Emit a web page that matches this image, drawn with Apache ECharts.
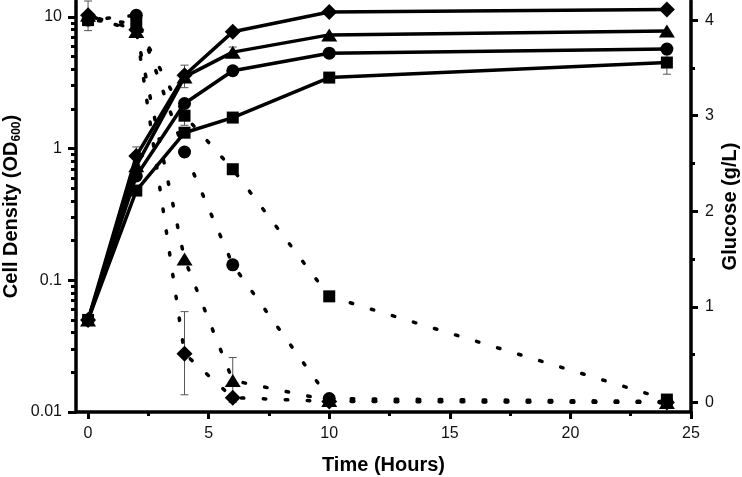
<!DOCTYPE html>
<html>
<head>
<meta charset="utf-8">
<script src="https://cdn.jsdelivr.net/npm/echarts@6/dist/echarts.min.js"></script>
<style>
  html, body { margin: 0; padding: 0; background: #fff; }
  #chart { width: 742px; height: 477px; }
</style>
</head>
<body>
<div id="chart"></div>
<script>
// sampling times (hours)
const times = [0, 2, 4, 6, 10, 24]

// cell density OD600 (solid lines, left log axis)
const odDiamond = [0.05, 0.88, 3.6, 7.7, 10.9, 11.4]
const odTriangle = [0.05, 0.74, 3.5, 5.4, 7.3, 7.8]
const odCircle = [0.05, 0.62, 2.2, 3.9, 5.3, 5.7]
const odSquare = [0.05, 0.48, 1.32, 1.72, 3.46, 4.5]

// glucose g/L (dotted lines, right axis)
const gluDiamond = [4.05, 3.9, 0.51, 0.05, 0.01, 0.0]
const gluTriangle = [4.05, 3.88, 1.5, 0.23, 0.02, 0.0]
const gluCircle = [4.0, 4.05, 2.62, 1.44, 0.04, 0.01]
const gluSquare = [4.0, 3.97, 3.0, 2.44, 1.11, 0.03]

// error bars [time, low, high]
const odErrors = [[2, 0.76, 1.03], [4, 2.9, 4.3], [6, 4.97, 5.9], [24, 3.67, 5.4]]
const gluErrors = [[0, 3.89, 4.2], [2, 3.95, 4.1], [4, 2.9, 3.1], [4, 0.08, 0.95], [6, 0.0, 0.47]]

// tick values
const xTicks = [0, 5, 10, 15, 20, 25]
const xMinorTicks = [2.5, 7.5, 12.5, 17.5, 22.5]
const odTicks = [0.01, 0.1, 1, 10]
const odMinorTicks = [0.02, 0.03, 0.04, 0.05, 0.06, 0.07, 0.08, 0.09,
  0.2, 0.3, 0.4, 0.5, 0.6, 0.7, 0.8, 0.9, 2, 3, 4, 5, 6, 7, 8, 9]
const gluTicks = [0, 1, 2, 3, 4]
const gluMinorTicks = [0.5, 1.5, 2.5, 3.5]

const font = 'Liberation Sans, Arial, sans-serif'
const tickStyle = { color: '#000', width: 3 }
const labelStyle = { fontSize: 16, color: '#111', fontFamily: font, margin: 14 }
const nameStyle = { fontSize: 20, fontWeight: 'bold', color: '#000', fontFamily: font }
const dotPeriod = 22

const chart = echarts.init(document.getElementById('chart'))

function axisLine() {
  return { show: true, onZero: false, lineStyle: { color: '#000', width: 3.5 } }
}

function pairs(values) {
  return times.map((t, i) => [t, values[i]])
}

function odLine(values, symbol, size) {
  return {
    type: 'line', xAxisIndex: 0, yAxisIndex: 0,
    data: pairs(values), symbol, symbolSize: size,
    lineStyle: { color: '#000', width: 3.5 },
    itemStyle: { color: '#000' }, z: 4
  }
}

function gluLine(id, values, symbol, size) {
  return {
    id, type: 'line', xAxisIndex: 0, yAxisIndex: 2,
    data: pairs(values), symbol, symbolSize: size,
    lineStyle: { color: '#000', width: 3.5, type: [2.5, dotPeriod - 2.5], cap: 'round' },
    itemStyle: { color: '#000' }, z: 3
  }
}

function errorBars(errors, yAxisIndex) {
  return {
    type: 'custom', xAxisIndex: 0, yAxisIndex,
    data: errors, z: 2,
    renderItem: (params, api) => {
      const x = api.value(0)
      const lo = api.coord([x, api.value(1)])
      const hi = api.coord([x, api.value(2)])
      const w = 4
      const style = { stroke: '#555', lineWidth: 1 }
      return {
        type: 'group',
        children: [
          { type: 'line', shape: { x1: lo[0], y1: lo[1], x2: hi[0], y2: hi[1] }, style },
          { type: 'line', shape: { x1: lo[0] - w, y1: lo[1], x2: lo[0] + w, y2: lo[1] }, style },
          { type: 'line', shape: { x1: hi[0] - w, y1: hi[1], x2: hi[0] + w, y2: hi[1] }, style }
        ]
      }
    }
  }
}

const option = {
  animation: false,
  grid: { left: 76, right: 51, top: 1, bottom: 65, containLabel: false, outerBoundsMode: 'none' },
  xAxis: [
    {
      type: 'value', min: -0.5, max: 25, position: 'bottom',
      name: 'Time (Hours)', nameLocation: 'middle', nameGap: 43, nameMoveOverlap: false,
      nameTextStyle: nameStyle,
      axisLine: axisLine(),
      axisTick: { show: true, customValues: xTicks, length: 7, lineStyle: tickStyle },
      axisLabel: { ...labelStyle, customValues: xTicks },
      splitLine: { show: false }
    },
    {
      type: 'value', min: -0.5, max: 25, position: 'bottom',
      axisLine: { show: false, onZero: false },
      axisTick: { show: true, customValues: xMinorTicks, length: 4, lineStyle: tickStyle },
      axisLabel: { show: false },
      splitLine: { show: false }
    }
  ],
  yAxis: [
    {
      type: 'log', logBase: 10, min: 0.01, max: 13.2, position: 'left',
      name: '{a|Cell Density (OD}{s|600}{a|)}', nameLocation: 'middle', nameGap: 53,
      nameMoveOverlap: false,
      nameTextStyle: {
        ...nameStyle,
        rich: {
          a: { ...nameStyle, lineHeight: 24 },
          s: { fontSize: 12, fontWeight: 'bold', color: '#000', fontFamily: font, lineHeight: 14, verticalAlign: 'bottom' }
        }
      },
      axisLine: axisLine(),
      axisTick: { show: true, customValues: odTicks, length: 8, lineStyle: tickStyle },
      axisLabel: { ...labelStyle, customValues: odTicks, formatter: v => String(v) },
      splitLine: { show: false }
    },
    {
      type: 'log', logBase: 10, min: 0.01, max: 13.2, position: 'left',
      axisLine: { show: false, onZero: false },
      axisTick: { show: true, customValues: odMinorTicks, length: 5, lineStyle: tickStyle },
      axisLabel: { show: false },
      splitLine: { show: false }
    },
    {
      type: 'value', min: -0.1, max: 4.2, position: 'right',
      name: 'Glucose (g/L)', nameLocation: 'middle', nameGap: 29, nameMoveOverlap: false,
      nameTextStyle: nameStyle,
      axisLine: axisLine(),
      axisTick: { show: true, customValues: gluTicks, length: 7, lineStyle: tickStyle },
      axisLabel: { ...labelStyle, customValues: gluTicks },
      splitLine: { show: false }
    },
    {
      type: 'value', min: -0.1, max: 4.2, position: 'right',
      axisLine: { show: false, onZero: false },
      axisTick: { show: true, customValues: gluMinorTicks, length: 4, lineStyle: tickStyle },
      axisLabel: { show: false },
      splitLine: { show: false }
    }
  ],
  series: [
    errorBars(odErrors, 0),
    errorBars(gluErrors, 2),
    gluLine('gluSquare', gluSquare, 'rect', 12),
    gluLine('gluCircle', gluCircle, 'circle', 13),
    gluLine('gluTriangle', gluTriangle, 'triangle', [16, 13]),
    gluLine('gluDiamond', gluDiamond, 'diamond', 16),
    odLine(odSquare, 'rect', 12),
    odLine(odCircle, 'circle', 13),
    odLine(odTriangle, 'triangle', [16, 13]),
    odLine(odDiamond, 'diamond', 16)
  ]
}

chart.setOption(option)

// line up the dot pattern of the glucose lines at t = 10, where they merge
function dashOffsetAt(values, index) {
  let len = 0
  for (let i = 1; i <= index; i++) {
    const a = chart.convertToPixel({ xAxisIndex: 0, yAxisIndex: 2 }, [times[i - 1], values[i - 1]])
    const b = chart.convertToPixel({ xAxisIndex: 0, yAxisIndex: 2 }, [times[i], values[i]])
    len += Math.hypot(b[0] - a[0], b[1] - a[1])
  }
  return (dotPeriod - (len % dotPeriod)) % dotPeriod
}

const gluSets = { gluSquare, gluCircle, gluTriangle, gluDiamond }
chart.setOption({
  series: Object.keys(gluSets).map(id => ({
    id, lineStyle: { dashOffset: dashOffsetAt(gluSets[id], 4) }
  }))
})
</script>
</body>
</html>
